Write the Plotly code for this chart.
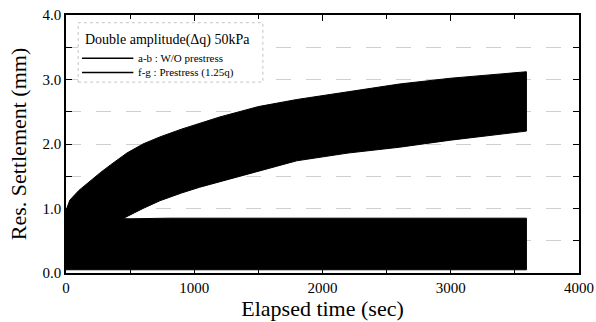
import plotly.graph_objects as go

# Envelope of the oscillating settlement records
# a-b : W/O prestress  -> flat band
ab_time = [0, 200, 500, 800, 1200, 1600, 2000, 2400, 2800, 3200, 3590]
ab_upper = [0.86, 0.85, 0.84, 0.85, 0.85, 0.86, 0.85, 0.86, 0.85, 0.86, 0.85]
ab_lower = [0.05, 0.05, 0.05, 0.05, 0.05, 0.05, 0.05, 0.05, 0.05, 0.05, 0.05]

# f-g : Prestress (1.25q) -> growing band
fg_time = [0, 30, 100, 200, 270, 350, 475, 600, 732, 900, 1043, 1200, 1500, 1800,
           2200, 2600, 3000, 3300, 3500, 3590]
fg_upper = [0.97, 1.13, 1.28, 1.45, 1.56, 1.68, 1.86, 2.00, 2.11, 2.23, 2.32, 2.42,
            2.58, 2.69, 2.81, 2.93, 3.02, 3.07, 3.11, 3.12]
fg_lower = [0.30, 0.40, 0.50, 0.60, 0.66, 0.75, 0.88, 1.00, 1.12, 1.24, 1.33, 1.42,
            1.58, 1.74, 1.86, 1.95, 2.06, 2.13, 2.18, 2.20]

legend_title = "Double amplitude(Δq) 50kPa"
series_names = ["a-b : W/O prestress", "f-g : Prestress (1.25q)"]

x_ticks = [0, 1000, 2000, 3000, 4000]
y_ticks = [0.0, 1.0, 2.0, 3.0, 4.0]
y_tick_text = ["0.0", "1.0", "2.0", "3.0", "4.0"]

FONT = "Liberation Serif"

fig = go.Figure()

for name, t, up, lo in [(series_names[0], ab_time, ab_upper, ab_lower),
                        (series_names[1], fg_time, fg_upper, fg_lower)]:
    fig.add_trace(go.Scatter(
        x=list(t) + list(t[::-1]),
        y=list(up) + list(lo[::-1]),
        fill="toself", fillcolor="black",
        line=dict(color="black", width=1),
        mode="lines", name=name, showlegend=False, hoverinfo="skip"))

axis_common = dict(
    showline=True, linecolor="black", linewidth=1.5, mirror="ticks",
    ticks="inside", ticklen=6, tickcolor="black", tickwidth=1.2,
    tickfont=dict(family=FONT, size=15, color="black"),
    zeroline=False, automargin=False,
)

fig.update_xaxes(
    range=[0, 4000], tickvals=x_ticks, showgrid=False,
    title=dict(text="Elapsed time (sec)", font=dict(family=FONT, size=22, color="black"), standoff=4),
    minor=dict(dtick=500, ticks="inside", ticklen=4, tickcolor="black", showgrid=False),
    **axis_common)
fig.update_yaxes(
    range=[0, 4.0], tickvals=y_ticks, ticktext=y_tick_text,
    showgrid=True, gridcolor="#cfcfcf", griddash="longdash", gridwidth=1,
    title=dict(text="Res. Settlement (mm)", font=dict(family=FONT, size=22, color="black"), standoff=10),
    minor=dict(dtick=0.5, ticks="inside", ticklen=6, tickcolor="black",
               showgrid=True, gridcolor="#cfcfcf", griddash="longdash"),
    **axis_common)

# Legend drawn as box, lines and text (data coordinates)
fig.add_shape(type="rect", xref="x", yref="y", x0=95, x1=1535, y0=2.96, y1=3.88,
              line=dict(color="#c4c4c4", width=1, dash="dot"), fillcolor="white", layer="above")
fig.add_annotation(x=130, y=3.62, xref="x", yref="y", text=legend_title, showarrow=False,
                   xanchor="left", yanchor="middle", font=dict(family=FONT, size=14, color="black"))
for yy, name in [(3.33, series_names[0]), (3.11, series_names[1])]:
    fig.add_shape(type="line", xref="x", yref="y", x0=125, x1=525, y0=yy, y1=yy,
                  line=dict(color="black", width=1.5), layer="above")
    fig.add_annotation(x=545, y=yy, xref="x", yref="y", text=name, showarrow=False,
                       xanchor="left", yanchor="middle", font=dict(family=FONT, size=11, color="black"))

fig.update_layout(
    width=596, height=322,
    margin=dict(l=66, r=17, t=15, b=49),
    paper_bgcolor="white", plot_bgcolor="white",
    showlegend=False,
)

fig.write_html("out.html")
